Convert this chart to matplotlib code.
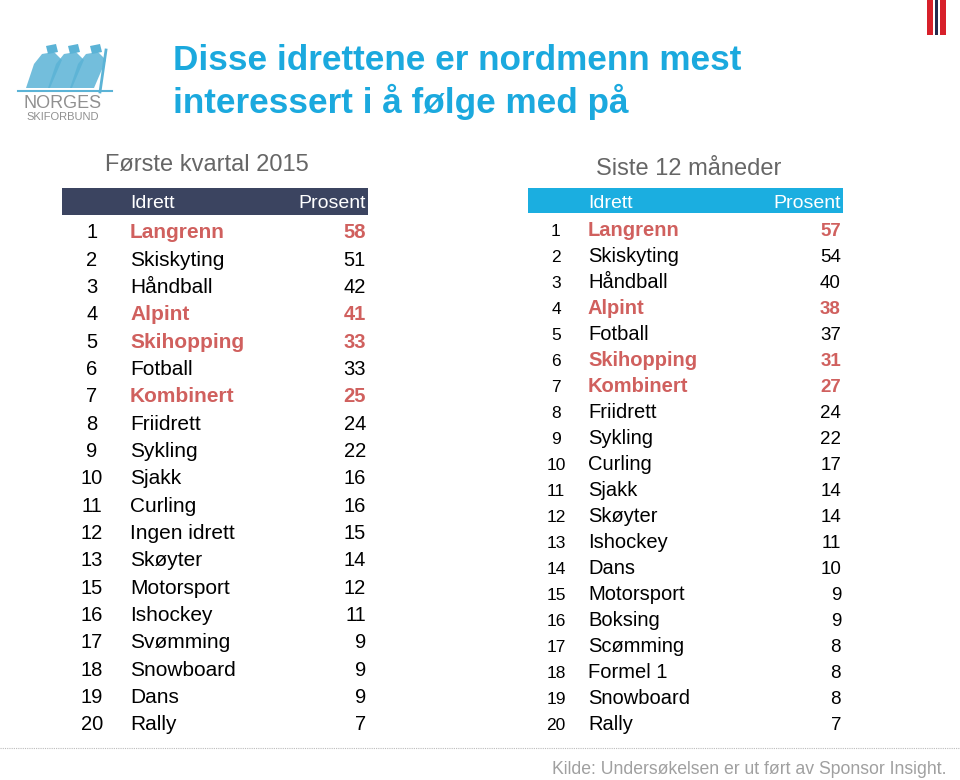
import matplotlib.pyplot as plt
from matplotlib.patches import Rectangle, Polygon

plt.rcParams['font.family'] = ['Liberation Sans', 'DejaVu Sans']

# Data: first quarter 2015
left_rank = [1, 2, 3, 4, 5, 6, 7, 8, 9, 10, 11, 12, 13, 15, 16, 17, 18, 19, 20]
left_sport = ['Langrenn', 'Skiskyting', 'Håndball', 'Alpint', 'Skihopping', 'Fotball',
              'Kombinert', 'Friidrett', 'Sykling', 'Sjakk', 'Curling', 'Ingen idrett',
              'Skøyter', 'Motorsport', 'Ishockey', 'Svømming', 'Snowboard', 'Dans', 'Rally']
left_pct = [58, 51, 42, 41, 33, 33, 25, 24, 22, 16, 16, 15, 14, 12, 11, 9, 9, 9, 7]
left_hl = ['Langrenn', 'Alpint', 'Skihopping', 'Kombinert']

# Data: last 12 months
right_rank = list(range(1, 21))
right_sport = ['Langrenn', 'Skiskyting', 'Håndball', 'Alpint', 'Fotball', 'Skihopping',
               'Kombinert', 'Friidrett', 'Sykling', 'Curling', 'Sjakk', 'Skøyter',
               'Ishockey', 'Dans', 'Motorsport', 'Boksing', 'Scømming', 'Formel 1',
               'Snowboard', 'Rally']
right_pct = [57, 54, 40, 38, 37, 31, 27, 24, 22, 17, 14, 14, 11, 10, 9, 9, 8, 8, 8, 7]
right_hl = ['Langrenn', 'Alpint', 'Skihopping', 'Kombinert']

RED = '#D0605E'
BLUE = '#1BA9DE'

fig = plt.figure(figsize=(9.6, 7.8), dpi=100)
ax = fig.add_axes([0, 0, 1, 1])
ax.set_xlim(0, 960)
ax.set_ylim(780, 0)
ax.axis('off')

# Flag stripes top right
ax.add_patch(Rectangle((927, 0), 19, 35, color='#D7202A', lw=0))
ax.add_patch(Rectangle((933, 0), 7, 35, color='white', lw=0))
ax.add_patch(Rectangle((935, 0), 3.3, 35, color='#232B4F', lw=0))

# Simple logo (skiers + name)
logo_blue = '#5BB3D6'
ax.plot([18, 112], [91, 91], color=logo_blue, lw=1.5)
for dx in [0, 22, 44]:
    ax.add_patch(Polygon([(26 + dx, 88), (34 + dx, 64), (42 + dx, 54), (54 + dx, 52),
                          (62 + dx, 60), (56 + dx, 74), (50 + dx, 88)],
                         closed=True, color=logo_blue, alpha=0.85, lw=0))
    ax.add_patch(Polygon([(46 + dx, 46), (56 + dx, 44), (58 + dx, 52), (48 + dx, 54)],
                         closed=True, color=logo_blue, lw=0))
ax.plot([100, 106], [92, 50], color=logo_blue, lw=2)
ax.text(63, 104, 'NORGES', color='#909090', fontsize=13, ha='center', va='center')
ax.text(63, 117, 'SKIFORBUND', color='#909090', fontsize=8, ha='center', va='center')

# Title
ax.text(173, 70, 'Disse idrettene er nordmenn mest', color=BLUE, fontsize=25.3,
        fontweight='bold', ha='left', va='baseline')
ax.text(173, 113, 'interessert i å følge med på', color=BLUE, fontsize=25.3,
        fontweight='bold', ha='left', va='baseline')

# Footer
ax.plot([0, 960], [748, 748], color='#BBBBBB', lw=0.8, ls=(0, (1, 1)))
ax.text(947, 770, 'Kilde: Undersøkelsen er ut ført av Sponsor Insight.', color='#A0A0A0',
        fontsize=12.7, ha='right', va='center')


def draw_table(x0, x1, head_y, head_h, head_col, subtitle, sub_x, sub_y,
               rank_x, name_x, val_x, row0, step, ranks, sports, pcts, hl,
               rank_fs, fs, val_fs):
    ax.text(sub_x, sub_y, subtitle, color='#666666', fontsize=17, ha='left', va='center')
    ax.add_patch(Rectangle((x0, head_y), x1 - x0, head_h, color=head_col, lw=0))
    hc = head_y + head_h / 2 + 7
    ax.text(name_x, hc, 'Idrett', color='white', fontsize=14, va='baseline')
    ax.text(val_x, hc, 'Prosent', color='white', fontsize=14, ha='right', va='baseline')
    for i, (r, s, p) in enumerate(zip(ranks, sports, pcts)):
        y = row0 + i * step + 7.5
        special = s in hl
        col = RED if special else 'black'
        wt = 'bold' if special else 'normal'
        ax.text(rank_x, y, str(r), color='black', fontsize=rank_fs, ha='center', va='baseline')
        ax.text(name_x, y, s, color=col, fontsize=fs, fontweight=wt, va='baseline')
        ax.text(val_x, y, str(p), color=col, fontsize=val_fs, fontweight=wt,
                ha='right', va='baseline')


draw_table(62, 368, 188, 27, '#3B4460', 'Første kvartal 2015', 105, 165,
           92, 130, 366, 231, 27.33, left_rank, left_sport, left_pct, left_hl,
           14.5, 15, 14.5)
draw_table(528, 843, 188, 25, '#1BAEE0', 'Siste 12 måneder', 596, 169,
           556, 588, 841, 229, 26.0, right_rank, right_sport, right_pct, right_hl,
           12.5, 14.5, 13.5)

fig.savefig('out.png', dpi=100)
